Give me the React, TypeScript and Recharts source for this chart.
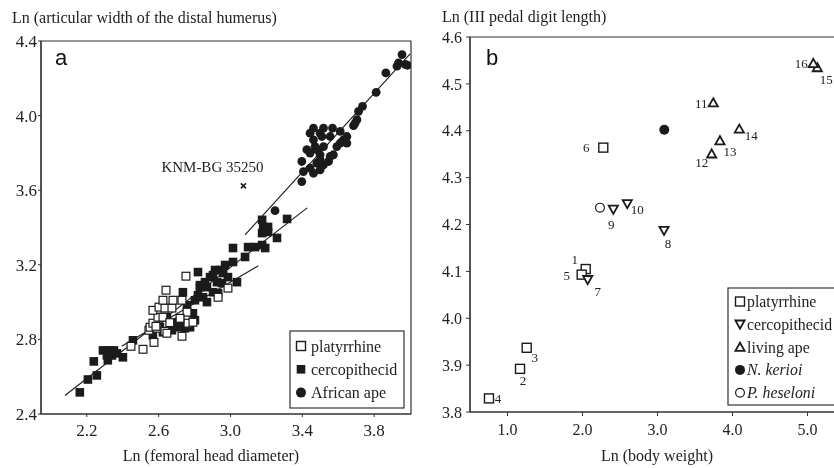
import { ScatterChart, Scatter, XAxis, YAxis, ReferenceLine, ReferenceArea } from "recharts";

const SERIF = '"Liberation Serif", "Times New Roman", serif';
const SANS = '"Liberation Sans", Arial, sans-serif';
const INK = "#1b1b1b";
const AXIS = "#333";

// ---- panel a: Ln(femoral head diameter) vs Ln(articular width of distal humerus)
const aXTicks = [2.2, 2.6, 3.0, 3.4, 3.8];
const aYTicks = [2.4, 2.8, 3.2, 3.6, 4.0, 4.4];
const aXDomain = [1.945, 4.005];
const aYDomain = [2.4, 4.4];

const platyrrhineA = [
  [2.446, 2.763], [2.513, 2.747], [2.574, 2.784], [2.546, 2.849], [2.552, 2.865],
  [2.568, 2.887], [2.591, 2.86], [2.635, 2.843], [2.646, 2.833], [2.73, 2.817],
  [2.596, 2.919], [2.624, 2.919], [2.568, 2.956], [2.602, 2.973], [2.635, 2.968],
  [2.674, 2.968], [2.624, 3.01], [2.68, 3.01], [2.641, 3.064], [2.752, 3.139],
  [2.763, 2.887], [2.791, 2.892], [2.931, 3.026], [2.986, 3.075], [2.73, 3.01],
  [2.758, 2.946], [2.719, 2.913], [2.662, 2.89], [2.585, 2.87],
];

const cercopithecidA = [
  [2.161, 2.516], [2.206, 2.585], [2.256, 2.607], [2.239, 2.682], [2.29, 2.741],
  [2.329, 2.741], [2.351, 2.741], [2.312, 2.714], [2.34, 2.714], [2.317, 2.688],
  [2.368, 2.725], [2.401, 2.704], [2.457, 2.795], [2.568, 2.822], [2.607, 2.865],
  [2.624, 2.838], [2.646, 2.919], [2.702, 2.865], [2.702, 2.892], [2.735, 3.053],
  [2.758, 2.983], [2.775, 2.865], [2.791, 2.94], [2.802, 2.903], [2.819, 3.161],
  [2.83, 3.08], [2.802, 3.01], [2.819, 3.037], [2.847, 3.026], [2.869, 3.0],
  [2.858, 3.107], [2.83, 3.091], [2.869, 3.08], [2.886, 3.134], [2.903, 3.145],
  [2.914, 3.172], [2.942, 3.172], [2.925, 3.107], [2.953, 3.102], [2.903, 3.053],
  [2.931, 3.048], [2.959, 3.156], [2.986, 3.134], [2.97, 3.199], [3.014, 3.215],
  [3.036, 3.107], [3.014, 3.29], [3.081, 3.242], [3.098, 3.295], [3.137, 3.295],
  [3.176, 3.306], [3.193, 3.29], [3.176, 3.37], [3.209, 3.376], [3.176, 3.441],
  [3.182, 3.403], [3.209, 3.403], [3.259, 3.344], [3.315, 3.446], [2.719, 2.903],
  [2.674, 2.849], [2.747, 2.86],
];

const africanApeA = [
  [3.955, 4.327], [3.973, 4.274], [3.927, 4.265], [3.936, 4.283], [3.985, 4.27],
  [3.865, 4.229], [3.811, 4.125], [3.735, 4.05], [3.713, 4.023], [3.704, 3.978],
  [3.694, 3.96], [3.685, 3.946], [3.518, 3.933], [3.462, 3.933], [3.568, 3.933],
  [3.611, 3.915], [3.499, 3.906], [3.443, 3.906], [3.509, 3.888], [3.462, 3.87],
  [3.555, 3.888], [3.648, 3.888], [3.629, 3.87], [3.611, 3.853], [3.471, 3.834],
  [3.518, 3.834], [3.592, 3.834], [3.425, 3.817], [3.481, 3.817], [3.648, 3.853],
  [3.443, 3.799], [3.499, 3.79], [3.555, 3.781], [3.573, 3.79], [3.397, 3.754],
  [3.406, 3.7], [3.443, 3.718], [3.462, 3.691], [3.499, 3.763], [3.481, 3.745],
  [3.518, 3.736], [3.546, 3.754], [3.499, 3.709], [3.397, 3.646], [3.248, 3.49],
];

const fossilA = [{ x: 3.072, y: 3.623, name: "KNM-BG 35250" }];

// regression lines [x1, y1, x2, y2]
const platyrrhineFit = [2.394, 2.763, 3.155, 3.195];
const cercopithecidFit = [2.078, 2.499, 3.427, 3.505];
const africanApeFit = [3.081, 3.36, 4.0, 4.331];

// ---- panel b: Ln(body weight) vs Ln(III pedal digit length)
const bXTicks = [1, 2, 3, 4, 5];
const bYTicks = [3.8, 3.9, 4.0, 4.1, 4.2, 4.3, 4.4, 4.5, 4.6];
const bXDomain = [0.5, 5.5];
const bYDomain = [3.8, 4.6];

const platyrrhineB = [
  { id: "1", x: 2.043, y: 4.105 },
  { id: "2", x: 1.167, y: 3.892 },
  { id: "3", x: 1.256, y: 3.937 },
  { id: "4", x: 0.753, y: 3.829 },
  { id: "5", x: 1.989, y: 4.093 },
  { id: "6", x: 2.277, y: 4.364 },
];
const cercopithecidB = [
  { id: "7", x: 2.069, y: 4.082 },
  { id: "8", x: 3.087, y: 4.187 },
  { id: "9", x: 2.411, y: 4.232 },
  { id: "10", x: 2.597, y: 4.244 },
];
const livingApeB = [
  { id: "11", x: 3.744, y: 4.46 },
  { id: "12", x: 3.722, y: 4.351 },
  { id: "13", x: 3.833, y: 4.379 },
  { id: "14", x: 4.091, y: 4.404 },
  { id: "15", x: 5.131, y: 4.535 },
  { id: "16", x: 5.077, y: 4.544 },
];
const keriotB = [{ id: "", x: 3.091, y: 4.402 }];
const heseloniB = [{ id: "", x: 2.233, y: 4.236 }];

// where each specimen number sits relative to its marker (px)
const labelOffsets: Record<string, [number, number]> = {
  "1": [-11, -10], "2": [3, 12], "3": [8, 10], "4": [9, 0], "5": [-15, 1],
  "6": [-17, 0], "7": [10, 12], "8": [4, 13], "9": [-2, 15], "10": [10, 6],
  "11": [-12, 1], "12": [-10, 9], "13": [10, 11], "14": [12, 7], "15": [9, 12],
  "16": [-12, 0],
};

const pts = (arr: number[][]) => arr.map(([x, y]) => ({ x, y }));
const fmt = (v: number) => v.toFixed(1);

// ---- marker shapes
const FilledSquare = ({ cx, cy }: any) => (
  <rect x={cx - 4.3} y={cy - 4.3} width={8.6} height={8.6} fill={INK} />
);
const OpenSquareA = ({ cx, cy }: any) => (
  <rect x={cx - 3.9} y={cy - 3.9} width={7.8} height={7.8} fill="#fff" stroke={INK} strokeWidth={1.2} />
);
const FilledCircleA = ({ cx, cy }: any) => <circle cx={cx} cy={cy} r={4.4} fill={INK} />;
const Cross = ({ cx, cy }: any) => (
  <path d={`M${cx - 2.5},${cy - 2.5}L${cx + 2.5},${cy + 2.5}M${cx + 2.5},${cy - 2.5}L${cx - 2.5},${cy + 2.5}`} stroke={INK} strokeWidth={1.6} />
);

const OpenSquareB = ({ cx, cy }: any) => (
  <rect x={cx - 4.5} y={cy - 4.5} width={9} height={9} fill="#fff" stroke={INK} strokeWidth={1.4} />
);
const DownTri = ({ cx, cy }: any) => (
  <path d={`M${cx - 4.6},${cy - 3.8}L${cx + 4.6},${cy - 3.8}L${cx},${cy + 4.4}Z`} fill="#fff" stroke={INK} strokeWidth={1.8} />
);
const UpTri = ({ cx, cy }: any) => (
  <path d={`M${cx - 4.6},${cy + 3.8}L${cx + 4.6},${cy + 3.8}L${cx},${cy - 4.4}Z`} fill="#fff" stroke={INK} strokeWidth={1.8} />
);
const FilledCircleB = ({ cx, cy }: any) => <circle cx={cx} cy={cy} r={5} fill={INK} />;
const OpenCircleB = ({ cx, cy }: any) => (
  <circle cx={cx} cy={cy} r={4.4} fill="#fff" stroke={INK} strokeWidth={1.2} />
);

const withLabel = (Marker: any) => (p: any) => {
  const id = p.payload?.id;
  const off = id ? labelOffsets[id] : undefined;
  return (
    <g>
      <Marker cx={p.cx} cy={p.cy} />
      {off && (
        <text x={p.cx + off[0]} y={p.cy + off[1]} textAnchor="middle" dominantBaseline="central"
          fontFamily={SERIF} fontSize={13} fill="#222">{id}</text>
      )}
    </g>
  );
};

const FossilShape = (p: any) => (
  <g>
    <Cross cx={p.cx} cy={p.cy} />
    <text x={p.cx - 31} y={p.cy - 14} textAnchor="middle" fontFamily={SERIF} fontSize={15} fill="#222">
      {p.payload?.name}
    </text>
  </g>
);

const tickA = { fill: "#222", fontSize: 17, fontFamily: SERIF };
const tickB = { fill: "#222", fontSize: 16, fontFamily: SERIF };

function PanelA() {
  return (
    <ScatterChart width={420} height={468} margin={{ top: 41, right: 9, bottom: 24, left: 0 }}>
      <XAxis type="number" dataKey="x" domain={aXDomain} ticks={aXTicks} allowDataOverflow
        tickFormatter={fmt} tick={tickA} tickSize={3} tickMargin={7} height={30}
        stroke={AXIS} axisLine={{ stroke: AXIS, strokeWidth: 1.2 }} />
      <YAxis type="number" dataKey="y" domain={aYDomain} ticks={aYTicks} allowDataOverflow
        tickFormatter={fmt} tick={tickA} tickSize={3} tickMargin={1} width={41}
        stroke={AXIS} axisLine={{ stroke: AXIS, strokeWidth: 1.2 }} />
      <ReferenceArea x1={aXDomain[0]} x2={aXDomain[1]} y1={aYDomain[0]} y2={aYDomain[1]}
        fill="#fff" fillOpacity={0} stroke={AXIS} strokeWidth={1.2} />
      <Scatter name="cercopithecid" data={pts(cercopithecidA)} shape={FilledSquare} isAnimationActive={false} />
      <Scatter name="platyrrhine" data={pts(platyrrhineA)} shape={OpenSquareA} isAnimationActive={false} />
      <Scatter name="African ape" data={pts(africanApeA)} shape={FilledCircleA} isAnimationActive={false} />
      <Scatter name="KNM-BG 35250" data={fossilA} shape={FossilShape} isAnimationActive={false} />
      {[platyrrhineFit, cercopithecidFit, africanApeFit].map((f, i) => (
        <ReferenceLine key={i} segment={[{ x: f[0], y: f[1] }, { x: f[2], y: f[3] }]}
          stroke={INK} strokeWidth={1.1} />
      ))}
    </ScatterChart>
  );
}

function PanelB() {
  return (
    <ScatterChart width={430} height={468} margin={{ top: 37, right: 5, bottom: 26, left: 0 }}>
      <XAxis type="number" dataKey="x" domain={bXDomain} ticks={bXTicks} allowDataOverflow
        tickFormatter={fmt} tick={tickB} tickSize={4} tickMargin={8} height={30}
        stroke={AXIS} axisLine={{ stroke: AXIS, strokeWidth: 1.2 }} />
      <YAxis type="number" dataKey="y" domain={bYDomain} ticks={bYTicks} allowDataOverflow
        tickFormatter={fmt} tick={tickB} tickSize={4} tickMargin={4} width={50}
        stroke={AXIS} axisLine={{ stroke: AXIS, strokeWidth: 1.2 }} />
      <ReferenceArea x1={bXDomain[0]} x2={bXDomain[1]} y1={bYDomain[0]} y2={bYDomain[1]}
        fill="#fff" fillOpacity={0} stroke={AXIS} strokeWidth={1.2} />
      <Scatter name="platyrrhine" data={platyrrhineB} shape={withLabel(OpenSquareB)} isAnimationActive={false} />
      <Scatter name="cercopithecid" data={cercopithecidB} shape={withLabel(DownTri)} isAnimationActive={false} />
      <Scatter name="living ape" data={livingApeB} shape={withLabel(UpTri)} isAnimationActive={false} />
      <Scatter name="N. kerioi" data={keriotB} shape={FilledCircleB} isAnimationActive={false} />
      <Scatter name="P. heseloni" data={heseloniB} shape={OpenCircleB} isAnimationActive={false} />
    </ScatterChart>
  );
}

const legendA = [
  { label: "platyrrhine", Marker: OpenSquareB, italic: false },
  { label: "cercopithecid", Marker: FilledSquare, italic: false },
  { label: "African ape", Marker: FilledCircleB, italic: false },
];
const legendB = [
  { label: "platyrrhine", Marker: OpenSquareB, italic: false },
  { label: "cercopithecid", Marker: DownTri, italic: false },
  { label: "living ape", Marker: UpTri, italic: false },
  { label: "N. kerioi", Marker: FilledCircleB, italic: true },
  { label: "P. heseloni", Marker: OpenCircleB, italic: true },
];

const layer = { position: "absolute" as const, left: 0, top: 0, transform: "translateZ(0)" };

export default function App() {
  return (
    <div style={{ position: "fixed", left: 0, top: 0, width: 834, height: 468, overflow: "hidden", background: "#fff" }}>
      <div style={layer}>
        <PanelA />
      </div>
      <div style={{ ...layer, left: 420 }}>
        <PanelB />
      </div>
      <svg width={834} height={468} style={{ ...layer, pointerEvents: "none" }}>
        <g fontFamily={SERIF} fontSize={16} fill="#222">
          <text x={12} y={23}>Ln (articular width of the distal humerus)</text>
          <text x={442} y={22}>Ln (III pedal digit length)</text>
          <text x={211} y={461} textAnchor="middle">Ln (femoral head diameter)</text>
          <text x={657} y={461} textAnchor="middle">Ln (body weight)</text>
        </g>
        <text x={55} y={65} fontFamily={SANS} fontSize={22} fill="#111">a</text>
        <text x={486} y={65} fontFamily={SANS} fontSize={22} fill="#111">b</text>

        <rect x={290} y={331} width={114} height={77} fill="#fff" stroke={AXIS} strokeWidth={1.2} />
        {legendA.map((e, i) => (
          <g key={e.label}>
            <e.Marker cx={301} cy={346 + i * 23.3} />
            <text x={311} y={346 + i * 23.3 + 5.5} fontFamily={SERIF} fontSize={16} fill="#222">{e.label}</text>
          </g>
        ))}

        <rect x={728} y={288} width={170} height={117} fill="#fff" stroke={AXIS} strokeWidth={1.2} />
        {legendB.map((e, i) => (
          <g key={e.label}>
            <e.Marker cx={740} cy={301.5 + i * 22.8} />
            <text x={747} y={301.5 + i * 22.8 + 5.5} fontFamily={SERIF} fontSize={15.8} fill="#222"
              fontStyle={e.italic ? "italic" : "normal"}>{e.label}</text>
          </g>
        ))}
      </svg>
    </div>
  );
}
